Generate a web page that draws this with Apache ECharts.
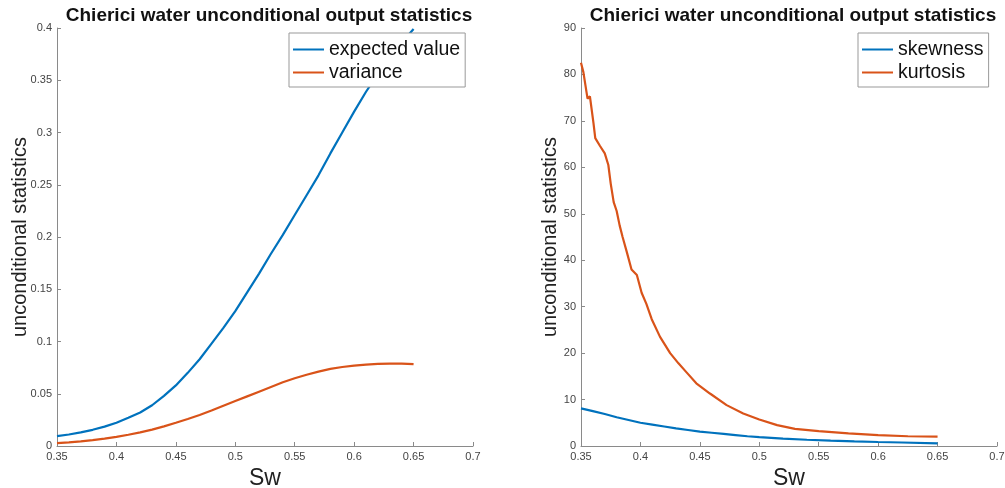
<!DOCTYPE html>
<html>
<head>
<meta charset="utf-8">
<script src="https://cdn.jsdelivr.net/npm/echarts@6/dist/echarts.min.js"></script>
<style>
html,body{margin:0;padding:0;background:#fff;}
#c{width:1005px;height:488px;}
</style>
</head>
<body>
<div id="c"></div>
<script>
// ---- data ----
const title = 'Chierici water unconditional output statistics';
const xLabel = 'Sw';
const yLabel = 'unconditional statistics';

// left panel
const swLeft = [0.35,0.36,0.37,0.38,0.39,0.40,0.41,0.42,0.43,0.44,0.45,0.46,0.47,0.48,0.49,0.50,
                0.51,0.52,0.53,0.54,0.55,0.56,0.57,0.58,0.59,0.60,0.61,0.62,0.63,0.64,0.65];
const expectedValue = [0.0095,0.011,0.013,0.0155,0.0185,0.0223,0.027,0.032,0.039,0.048,0.058,0.070,0.083,0.098,0.113,0.129,
                       0.147,0.165,0.184,0.202,0.221,0.240,0.259,0.280,0.300,0.320,0.339,0.356,0.372,0.386,0.399];
const variance = [0.0028,0.0035,0.0045,0.0057,0.0071,0.0088,0.0108,0.0131,0.0157,0.0188,0.0222,0.0259,0.0297,0.0340,0.0385,0.0430,
                  0.0475,0.0520,0.0565,0.0610,0.0648,0.0682,0.0712,0.0738,0.0756,0.0770,0.0779,0.0785,0.0788,0.0789,0.0783];

// right panel
const swSkew = [0.35,0.36,0.37,0.38,0.39,0.40,0.41,0.42,0.43,0.44,0.45,0.46,0.47,0.48,0.49,0.50,
                0.52,0.54,0.56,0.58,0.60,0.62,0.65];
const skewness = [8.1,7.5,6.9,6.2,5.6,5.0,4.6,4.2,3.8,3.45,3.1,2.85,2.6,2.35,2.1,1.9,
                  1.6,1.35,1.15,1.0,0.86,0.75,0.57];
const swKurt = [0.350,0.352,0.3555,0.3575,0.359,0.3605,0.362,0.366,0.370,0.373,0.375,0.3775,0.380,0.3825,0.385,
                0.3885,0.3925,0.397,0.401,0.405,0.4095,0.4165,0.425,0.432,0.439,0.447,0.4585,0.4725,0.4865,
                0.500,0.515,0.530,0.550,0.575,0.600,0.625,0.650];
const kurtosis = [82.5,80.5,74.8,75.3,74.9,69.5,66.3,64.6,63.0,60.5,56.5,52.5,50.6,47.5,45.0,
                  41.8,38.0,36.8,33.0,30.6,27.3,23.5,20.0,17.8,15.8,13.5,11.3,8.8,7.0,
                  5.7,4.5,3.7,3.2,2.7,2.35,2.1,2.0];

const xTicks = {min:0.35, max:0.7, interval:0.05};
const yLeft = {min:0, max:0.4, interval:0.05};
const yRight = {min:0, max:90, interval:10};

const names = ['expected value','variance','skewness','kurtosis'];
const colors = ['#0072BD','#D95319'];

// ---- chart ----
const FONT = '"Liberation Sans", Arial, Helvetica, sans-serif';
const pair = (xs, ys) => xs.map((x,i)=>[x, ys[i]]);
const axisCol = '#8a8a8a';
const labelCol = '#444';

function xAxis(gi){
  return {
    type:'value', gridIndex:gi, min:xTicks.min, max:xTicks.max, interval:xTicks.interval,
    name:xLabel, nameLocation:'middle', nameGap:21, nameMoveOverlap:false,
    nameTextStyle:{fontFamily:FONT, fontSize:23, color:'#222'},
    axisLine:{show:true, lineStyle:{color:axisCol, width:1}},
    axisTick:{show:true, inside:true, length:4, lineStyle:{color:axisCol}},
    axisLabel:{fontFamily:FONT, fontSize:11, color:labelCol, margin:5,
      formatter:v=>String(+v.toFixed(2))},
    splitLine:{show:false}
  };
}
function yAxis(gi, t, gap){
  return {
    type:'value', gridIndex:gi, min:t.min, max:t.max, interval:t.interval,
    name:yLabel, nameLocation:'middle', nameGap:gap, nameMoveOverlap:false,
    nameTextStyle:{fontFamily:FONT, fontSize:20, color:'#222'},
    axisLine:{show:true, lineStyle:{color:axisCol, width:1}},
    axisTick:{show:true, inside:true, length:4, lineStyle:{color:axisCol}},
    axisLabel:{fontFamily:FONT, fontSize:11, color:labelCol, margin:5,
      formatter:v=>String(+v.toFixed(2))},
    splitLine:{show:false}
  };
}
function legend(left, data){
  return {
    left:left, top:33, orient:'vertical', data:data,
    icon:'rect', itemWidth:31, itemHeight:2, itemGap:2,
    padding:[6,5,4,4],
    borderColor:'#999', borderWidth:1, backgroundColor:'#fff',
    textStyle:{fontFamily:FONT, fontSize:19.5, color:'#111', lineHeight:21}
  };
}
function line(name, gi, data, color){
  return {
    name:name, type:'line', xAxisIndex:gi, yAxisIndex:gi, data:data,
    showSymbol:false, symbol:'none', smooth:false, clip:true,
    lineStyle:{color:color, width:2.2}, itemStyle:{color:color},
    emphasis:{disabled:true}, animation:false
  };
}

const chart = echarts.init(document.getElementById('c'), null, {renderer:'canvas'});
chart.setOption({
  animation:false,
  backgroundColor:'#fff',
  title:[
    {text:title, left:264, top:1, textAlign:'center',
     textStyle:{fontFamily:FONT, fontSize:19, fontWeight:'bold', color:'#111'}},
    {text:title, left:788, top:1, textAlign:'center',
     textStyle:{fontFamily:FONT, fontSize:19, fontWeight:'bold', color:'#111'}}
  ],
  grid:[
    {left:57, top:28, width:416, height:418, containLabel:false, outerBoundsMode:'none'},
    {left:581, top:28, width:416, height:418, containLabel:false, outerBoundsMode:'none'}
  ],
  xAxis:[xAxis(0), xAxis(1)],
  yAxis:[yAxis(0, yLeft, 27), yAxis(1, yRight, 21)],
  legend:[legend(289, [names[0],names[1]]), legend(858, [names[2],names[3]])],
  series:[
    line(names[0], 0, pair(swLeft, expectedValue), colors[0]),
    line(names[1], 0, pair(swLeft, variance), colors[1]),
    line(names[2], 1, pair(swSkew, skewness), colors[0]),
    line(names[3], 1, pair(swKurt, kurtosis), colors[1])
  ]
});
</script>
</body>
</html>
